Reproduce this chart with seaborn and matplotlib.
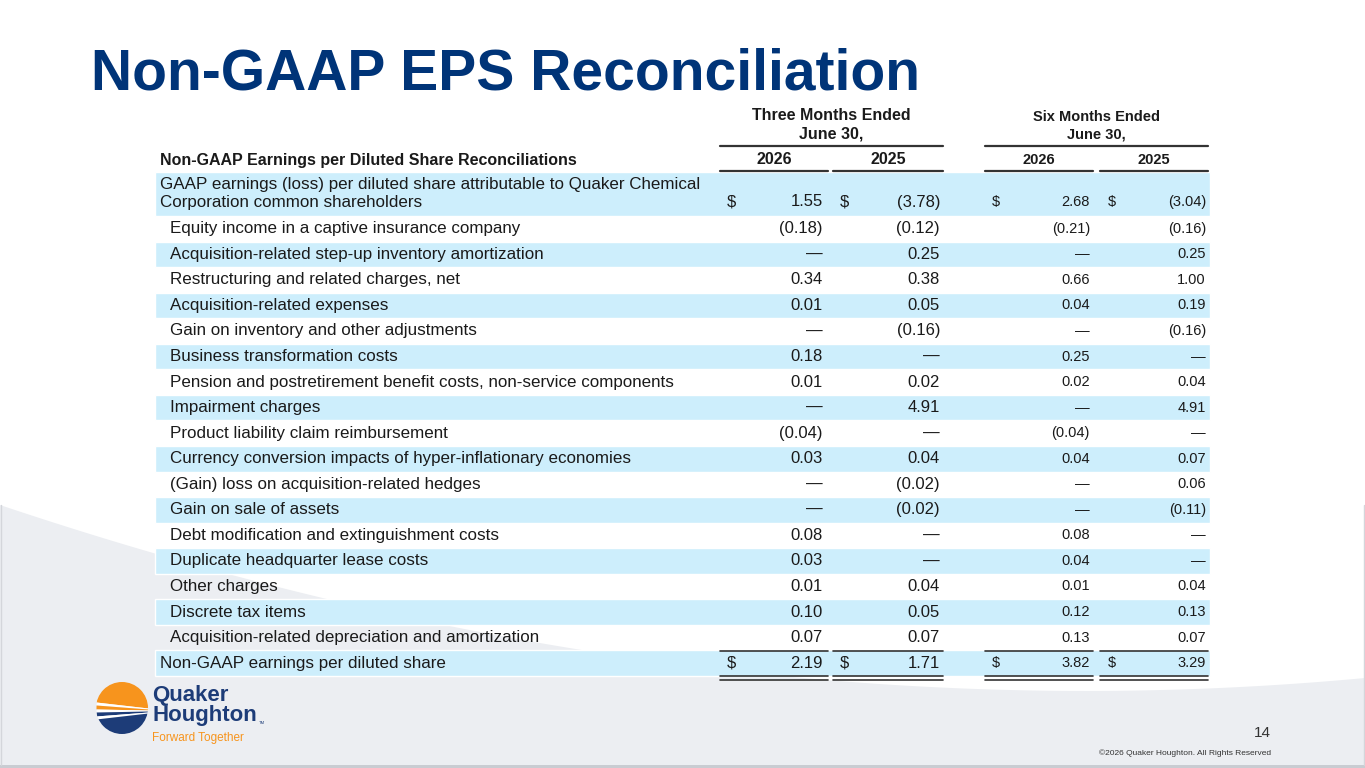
import numpy as np
import seaborn as sns
import matplotlib
matplotlib.use("Agg")
from matplotlib import pyplot as plt
from matplotlib.patches import Circle

# ---- data ----
labels = [
    "GAAP earnings (loss) per diluted share attributable to Quaker Chemical\nCorporation common shareholders",
    "Equity income in a captive insurance company",
    "Acquisition-related step-up inventory amortization",
    "Restructuring and related charges, net",
    "Acquisition-related expenses",
    "Gain on inventory and other adjustments",
    "Business transformation costs",
    "Pension and postretirement benefit costs, non-service components",
    "Impairment charges",
    "Product liability claim reimbursement",
    "Currency conversion impacts of hyper-inflationary economies",
    "(Gain) loss on acquisition-related hedges",
    "Gain on sale of assets",
    "Debt modification and extinguishment costs",
    "Duplicate headquarter lease costs",
    "Other charges",
    "Discrete tax items",
    "Acquisition-related depreciation and amortization",
    "Non-GAAP earnings per diluted share",
]
q2_2026 = ["1.55", "(0.18)", "—", "0.34", "0.01", "—", "0.18", "0.01", "—", "(0.04)",
           "0.03", "—", "—", "0.08", "0.03", "0.01", "0.10", "0.07", "2.19"]
q2_2025 = ["(3.78)", "(0.12)", "0.25", "0.38", "0.05", "(0.16)", "—", "0.02", "4.91", "—",
           "0.04", "(0.02)", "(0.02)", "—", "—", "0.04", "0.05", "0.07", "1.71"]
h1_2026 = ["2.68", "(0.21)", "—", "0.66", "0.04", "—", "0.25", "0.02", "—", "(0.04)",
           "0.04", "—", "—", "0.08", "0.04", "0.01", "0.12", "0.13", "3.82"]
h1_2025 = ["(3.04)", "(0.16)", "0.25", "1.00", "0.19", "(0.16)", "—", "0.04", "4.91", "—",
           "0.07", "0.06", "(0.11)", "—", "—", "0.04", "0.13", "0.07", "3.29"]
years = ["2026", "2025", "2026", "2025"]
periods = ["Three Months Ended\nJune 30,", "Six Months Ended\nJune 30,"]

NAVY = "#003478"
LOGO_BLUE = "#1d3c78"
ORANGE = "#f7941d"
SHADE = "#cdeefc"
INK = "#1a1a1a"
RULE = "#333333"

sns.set_theme(style="white")
plt.rcParams["font.family"] = ["Liberation Sans", "DejaVu Sans"]

fig = plt.figure(figsize=(13.65, 7.68), dpi=100)
ax = fig.add_axes([0, 0, 1, 1])
ax.set_xlim(0, 1365)
ax.set_ylim(768, 0)
ax.axis("off")

# background swoosh (decoration): quadratic bezier edge
t = np.linspace(0, 1, 400)
bx = 2 * (1 - t) * t * 700 + t ** 2 * 1365
by = (1 - t) ** 2 * 505 + 2 * (1 - t) * t * 740 + t ** 2 * 678
ax.fill_between(bx, by, 765, color="#eceef2", zorder=0, lw=0)
ax.fill_between([0, 1365], 765, 768, color="#c9ccd2", zorder=0, lw=0)
ax.plot([1364, 1364], [505, 765], color="#d4d6db", lw=1, zorder=0)
ax.plot([0.5, 0.5], [505, 765], color="#d4d6db", lw=1, zorder=0)

# row geometry
n = len(labels)
heights = np.array([44] + [25.55] * (n - 1))
tops = 172 + np.concatenate([[0], np.cumsum(heights[:-1])])
centers = tops + heights / 2
shaded = np.arange(n) % 2 == 0
ax.barh(centers[shaded], 1055, height=heights[shaded], left=155, color=SHADE, zorder=1)

# column layout
dollar_x = [727, 840, 992, 1108]
value_x = [823, 940, 1090, 1206]
col_l = [720, 833, 985, 1100]
col_r = [828, 943, 1093, 1208]
sizes = [12, 12, 10.5, 10.5]
cols = [q2_2026, q2_2025, h1_2026, h1_2025]

for i, lab in enumerate(labels):
    bold_row = i in (0, n - 1)
    lx = 160 if bold_row else 170
    yv = centers[i] + (8 if i == 0 else 0)
    ax.text(lx, centers[i], lab, ha="left", va="center", fontsize=12.25, color=INK,
            linespacing=1.25, zorder=3)
    for c in range(4):
        ax.text(value_x[c], yv, cols[c][i], ha="right", va="center",
                fontsize=sizes[c], color=INK, zorder=3)
        if bold_row:
            ax.text(dollar_x[c], yv, "$", ha="left", va="center",
                    fontsize=sizes[c], color=INK, zorder=3)

# header
ax.text(160, 160, "Non-GAAP Earnings per Diluted Share Reconciliations", ha="left",
        va="center", fontsize=11.5, fontweight="bold", color=INK)
for c in range(4):
    ax.text((col_l[c] + col_r[c]) / 2, 160, years[c], ha="center", va="center",
            fontsize=11.5 if c < 2 else 10.5, fontweight="bold", color=INK)
    ax.plot([col_l[c], col_r[c]], [171, 171], color=RULE, lw=1.6, zorder=4)
    ax.plot([col_l[c], col_r[c]], [650.5, 650.5], color=RULE, lw=1.2, zorder=4)
    ax.plot([col_l[c], col_r[c]], [676, 676], color=RULE, lw=1.2, zorder=4)
    ax.plot([col_l[c], col_r[c]], [679.5, 679.5], color=RULE, lw=1.2, zorder=4)
for p, (l, r) in enumerate([(720, 943), (985, 1208)]):
    ax.text((l + r) / 2, 125 if p == 0 else 126, periods[p], ha="center", va="center",
            fontsize=11.5 if p == 0 else 10.5, fontweight="bold", color=INK, linespacing=1.3)
    ax.plot([l, r], [146, 146], color=RULE, lw=1.6, zorder=4)

# title
ax.text(91, 74, "Non-GAAP EPS Reconciliation", ha="left", va="center", fontsize=41,
        fontweight="bold", color=NAVY)

# logo mark: orange top, blue bottom, white swooshes
cx, cy, r = 122, 708, 26
clip = Circle((cx, cy), r, transform=ax.transData)
lx_ = np.linspace(cx - r, cx + r, 100)
s = (lx_ - (cx - r)) / (2 * r)
bands = [
    (cy - r, cy - 6 + 6 * s, ORANGE),
    (cy - 6 + 6 * s, cy - 3 + 4 * s, "white"),
    (cy - 3 + 4 * s, cy + 1 + 1 * s, ORANGE),
    (cy + 1 + 1 * s, cy + 4 - 1 * s, "white"),
    (cy + 4 - 1 * s, cy + 8 - 4 * s, LOGO_BLUE),
    (cy + 8 - 4 * s, cy + 11 - 6 * s, "white"),
    (cy + 11 - 6 * s, cy + r, LOGO_BLUE),
]
for lo, hi, colr in bands:
    fb = ax.fill_between(lx_, lo, hi, color=colr, lw=0, zorder=3)
    fb.set_clip_path(clip)
ax.text(152, 696, "Quaker", ha="left", va="center", fontsize=16, fontweight="bold",
        color=LOGO_BLUE)
ax.text(152, 716, "Houghton", ha="left", va="center", fontsize=16, fontweight="bold",
        color=LOGO_BLUE)
ax.text(259, 723, "TM", ha="left", va="center", fontsize=3, color=LOGO_BLUE)
ax.text(152, 738, "Forward Together", ha="left", va="center", fontsize=8.5,
        color=ORANGE)

# footer
ax.text(1271, 733, "14", ha="right", va="center", fontsize=11, color=RULE)
ax.text(1271, 753, "©2026 Quaker Houghton. All Rights Reserved", ha="right",
        va="center", fontsize=6, color=RULE)

fig.savefig("out.png", dpi=100)
